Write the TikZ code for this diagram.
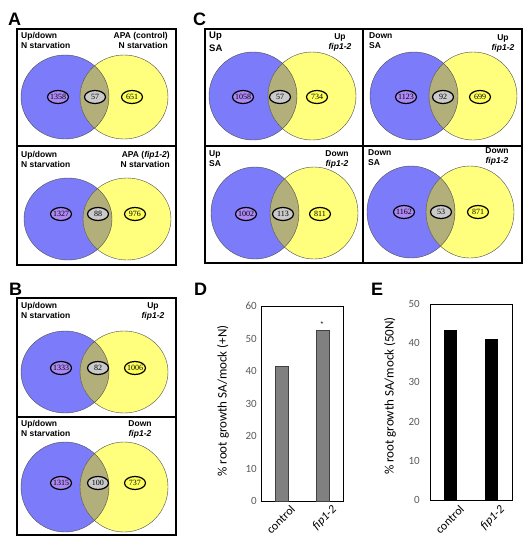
\documentclass[tikz,border=0pt]{standalone}
\usepackage{fontspec}
\setmainfont{Liberation Sans}
\newfontfamily\numfont{Liberation Serif}
\newfontfamily\chartfont{Carlito}
\usetikzlibrary{positioning,shapes.geometric}
\definecolor{vennblue}{RGB}{124,124,250}
\definecolor{vennyellow}{RGB}{255,255,125}
\definecolor{vennolive}{RGB}{178,175,122}
\definecolor{ovalpurple}{RGB}{172,136,245}
\definecolor{ovalgray}{RGB}{202,202,202}
\definecolor{ovalyellow}{RGB}{255,255,90}
\definecolor{ticktext}{RGB}{89,89,89}
\definecolor{bargray}{RGB}{128,128,128}

\begin{document}
\begin{tikzpicture}[x=1pt,y=-1pt]

% stili delle etichette e degli ovali
\tikzset{panellab/.style={font=\fontsize{18}{18}\selectfont\bfseries, inner sep=0pt, anchor=base west}}
\tikzset{vennlab/.style={font=\fontsize{8.5}{10}\selectfont\bfseries, inner sep=0pt}}
\tikzset{oval/.style={ellipse, draw, line width=1.2pt, minimum width=21pt, minimum height=13pt, inner sep=0pt, fill=#1, font=\numfont\fontsize{8}{8}\selectfont}}
\tikzset{ticklab/.style={font=\chartfont\fontsize{11}{11}\selectfont, text=ticktext, inner sep=1pt, anchor=east}}
\tikzset{axislab/.style={font=\chartfont\fontsize{13}{13}\selectfont, inner sep=0pt, rotate=90}}
\tikzset{barlab/.style={font=\chartfont\fontsize{12}{12}\selectfont, inner sep=0pt, rotate=45, anchor=north east}}

\useasboundingbox (0,0) rectangle (530,550);

% diagrammi di Venn
\foreach \bx/\by/\ry/\mx/\oy/\na/\nb/\nc [count=\i] in
  {65/97/42/95/97/1358/57/651, 68/219/41/98/214/1327/88/976,
   65/372/41/98/368/1333/82/1006, 65/487/45/98/483/1315/100/737,
   253/96/44/280/97/1058/57/734, 414/96/44/443/97/1123/92/699,
   255/213/46/283/214/1002/113/811, 411/212/46/441/212/1162/53/871}
{
\fill[vennblue] (\bx,\by) ellipse [x radius=44pt, y radius=\ry pt];
\fill[vennyellow] (\bx+59,\by) ellipse [x radius=44pt, y radius=\ry pt];
\begin{scope}
\clip (\bx,\by) ellipse [x radius=44pt, y radius=\ry pt];
\fill[vennolive] (\bx+59,\by) ellipse [x radius=44pt, y radius=\ry pt];
\end{scope}
\draw[black!70, line width=0.4pt] (\bx,\by) ellipse [x radius=44pt, y radius=\ry pt];
\draw[black!70, line width=0.4pt] (\bx+59,\by) ellipse [x radius=44pt, y radius=\ry pt];
\node[oval=ovalpurple] (l\i) at (\mx-37,\oy) {\makebox[0pt]{\na}};
\node[oval=ovalgray] (m\i) at (\mx,\oy) {\makebox[0pt]{\nb}};
\node[oval=ovalyellow] (r\i) at (\mx+37,\oy) {\makebox[0pt]{\nc}};
}

% riquadri
\draw[line width=1.3pt] (17,29) rectangle (176,265);
\draw[line width=1.3pt] (17,146) -- (176,146);
\draw[line width=1.3pt] (17,298) rectangle (176,535);
\draw[line width=1.3pt] (17,417) -- (176,417);
\draw[line width=1.3pt] (205,29) rectangle (522,263);
\draw[line width=1.3pt] (363,29) -- (363,263);
\draw[line width=1.3pt] (205,146) -- (522,146);

% lettere dei pannelli
\foreach \t/\x/\y in {A/8/25, B/9/295, C/193/25, D/194/295, E/371/295}
\node[panellab] (lab\t) at (\x,\y) {\t};

% etichette dei diagrammi
\node[vennlab, anchor=north west, align=left] (a1l) at (21,32) {Up/down\\N starvation};
\node[vennlab, anchor=north east, align=right] (a1r) at (168,32) {APA (control)\\N starvation};
\node[vennlab, anchor=north west, align=left] (a2l) at (21,151) {Up/down\\N starvation};
\node[vennlab, anchor=north east, align=right] (a2r) at (170,151) {APA (\textit{fip1-2})\\N starvation};
\node[vennlab, anchor=north west, align=left] (b1l) at (21,302) {Up/down\\N starvation};
\node[vennlab, anchor=north, align=center] (b1r) at (153,302) {Up\\\textit{fip1-2}};
\node[vennlab, anchor=north west, align=left] (b2l) at (21,420) {Up/down\\N starvation};
\node[vennlab, anchor=north, align=center] (b2r) at (140,420) {Down\\\textit{fip1-2}};
\node[vennlab, anchor=north west, align=left, font=\fontsize{9.5}{13}\selectfont\bfseries] (c1l) at (209,32) {Up\\SA};
\node[vennlab, anchor=north, align=center] (c1r) at (340,33) {Up\\\textit{fip1-2}};
\node[vennlab, anchor=north west, align=left] (c2l) at (369,32) {Down\\SA};
\node[vennlab, anchor=north, align=center] (c2r) at (503,34) {Up\\\textit{fip1-2}};
\node[vennlab, anchor=north west, align=left] (c3l) at (209,150) {Up\\SA};
\node[vennlab, anchor=north, align=center] (c3r) at (337,150) {Down\\\textit{fip1-2}};
\node[vennlab, anchor=north west, align=left] (c4l) at (368,149) {Down\\SA};
\node[vennlab, anchor=north, align=center] (c4r) at (497,147) {Down\\\textit{fip1-2}};

% grafico D
\draw[line width=0.6pt] (261,306) rectangle (343,501);
\filldraw[fill=bargray, draw=black!75, line width=0.8pt] (275,501) rectangle (288,366);
\filldraw[fill=bargray, draw=black!75, line width=0.8pt] (316,501) rectangle (329,330);
\foreach \v in {0,10,...,60}
\node[ticklab] (dt\v) at (258,501-3.25*\v) {\v};
\node[font=\fontsize{7}{7}\selectfont, inner sep=0pt] (star) at (322,324) {*};
\node[axislab] (dylab) at (223,401) {\% root growth SA/mock (+N)};
\node[barlab] (dxc) at (290,504) {control};
\node[barlab] (dxf) at (331,504) {\textit{fip1-2}};

% grafico E
\draw[line width=0.6pt] (430,304) rectangle (512,500);
\fill[black] (444,500) rectangle (457,329.5);
\fill[black] (485,500) rectangle (498,339);
\foreach \v in {0,10,...,50}
\node[ticklab] (et\v) at (421,500-3.92*\v) {\v};
\node[axislab] (eylab) at (390,396) {\% root growth SA/mock (50N)};
\node[barlab] (exc) at (459,504) {control};
\node[barlab] (exf) at (499,504) {\textit{fip1-2}};

\end{tikzpicture}
\end{document}
